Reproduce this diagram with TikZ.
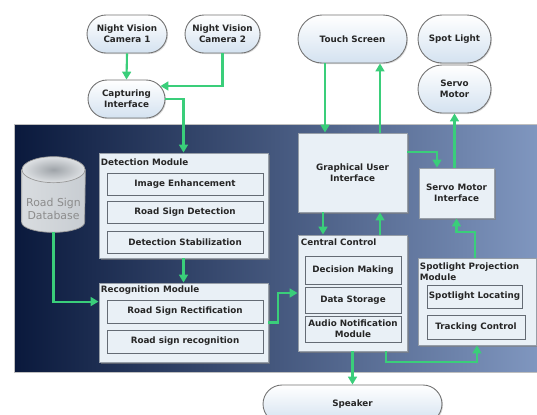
\documentclass[tikz,border=0pt]{standalone}
\usepackage{fontspec}
\setmainfont{DejaVu Sans}
\usetikzlibrary{shapes.misc,shadows,arrows.meta,calc}

\definecolor{flowgreen}{RGB}{58,206,122}
\definecolor{panelleft}{RGB}{10,25,60}
\definecolor{panelright}{RGB}{128,151,192}
\definecolor{boxfill}{RGB}{233,240,246}
\definecolor{boxline}{RGB}{150,158,168}
\definecolor{subline}{RGB}{100,107,116}
\definecolor{pillfill}{RGB}{212,226,240}
\definecolor{dbbody}{RGB}{200,205,210}
\definecolor{dbtop}{RGB}{158,163,168}

\tikzset{
	every node/.style={font=\fontsize{5}{6.3}\selectfont\bfseries, text=black!85, align=center, inner sep=0pt},
	pill/.style={rounded rectangle, draw=black!55, line width=0.5pt, top color=white, bottom color=pillfill,
		drop shadow={opacity=0.3, shadow xshift=0.6pt, shadow yshift=-0.6pt}},
	module/.style={rectangle, draw=boxline, fill=boxfill, line width=0.5pt,
		drop shadow={opacity=0.6, shadow xshift=1.2pt, shadow yshift=-1.2pt}},
	part/.style={rectangle, draw=subline, fill=boxfill, line width=0.5pt, minimum width=3.12cm,
		drop shadow={opacity=0.3, shadow xshift=0.5pt, shadow yshift=-0.5pt}},
	title/.style={anchor=west, align=left},
	flow/.style={draw=flowgreen, line width=1.2pt, ->},
}

\begin{document}
\begin{tikzpicture}[x=0.02cm, y=-0.02cm, >={Triangle[length=4.5pt,width=5pt]}]
	\clip (0,0) rectangle (537,414);
	\fill[white] (0,0) rectangle (537,414);
	% system panel
	\shade[left color=panelleft, right color=panelright, draw=black!25] (14,124) rectangle (540,372);

	% devices outside the panel
	\node[pill, minimum width=1.6cm, minimum height=0.76cm] (cam1) at (127,34) {Night Vision\\Camera 1};
	\node[pill, minimum width=1.5cm, minimum height=0.76cm] (cam2) at (222.5,34) {Night Vision\\Camera 2};
	\node[pill, minimum width=1.54cm, minimum height=0.76cm] (capt) at (126.5,99) {Capturing\\Interface};
	\node[pill, minimum width=2.18cm, minimum height=0.96cm] (touch) at (352.5,39) {Touch Screen};
	\node[pill, minimum width=1.46cm, minimum height=0.96cm] (spot) at (454.5,39) {Spot Light};
	\node[pill, minimum width=1.46cm, minimum height=0.96cm] (servo) at (454.5,89) {Servo\\Motor};
	\node[pill, minimum width=3.58cm, minimum height=0.76cm] (speaker) at (352.5,404) {Speaker};

	% database
	\node[minimum width=1.26cm, minimum height=1.5cm] (db) at (53.5,194.5) {};
	\shade[left color=dbbody!70!white, right color=dbbody, draw=black!40]
		($(db.north west)+(0,13)$) -- ($(db.south west)+(0,-10)$)
		arc[start angle=180, end angle=360, x radius=0.63cm, y radius=0.2cm]
		-- ($(db.north east)+(0,13)$) -- cycle;
	\shade[inner color=dbtop, outer color=dbbody!60!white, draw=black!40]
		($(db.north)+(0,13)$) ellipse [x radius=0.63cm, y radius=0.26cm];
	\node[font=\fontsize{6.2}{7.4}\selectfont, text=black!45] (dblabel) at ($(db.center)+(0,14)$) {Road Sign\\Database};

	% detection module
	\node[module, minimum width=3.38cm, minimum height=2.1cm] (det) at (183.5,205.5) {};
	\node[title] at ($(det.north west)+(2,10)$) {Detection Module};
	\node[part, minimum height=0.44cm] (enh) at (185,184) {Image Enhancement};
	\node[part, minimum height=0.44cm] (sdet) at (185,212) {Road Sign Detection};
	\node[part, minimum height=0.44cm] (stab) at (185,242) {Detection Stabilization};

	% recognition module
	\node[module, minimum width=3.38cm, minimum height=1.58cm] (rec) at (183.5,322.5) {};
	\node[title] at ($(rec.north west)+(2,8)$) {Recognition Module};
	\node[part, minimum height=0.46cm] (rect) at (185,311.5) {Road Sign Rectification};
	\node[part, minimum height=0.46cm] (recog) at (185,341.5) {Road sign recognition};

	% gui and central control
	\node[module, minimum width=2.18cm, minimum height=1.58cm] (gui) at (352.5,172.5) {Graphical User\\Interface};
	\node[module, minimum width=2.18cm, minimum height=2.32cm] (cc) at (352.5,293) {};
	\node[title] at ($(cc.north west)+(3,8)$) {Central Control};
	\node[part, minimum width=1.92cm, minimum height=0.56cm] (dec) at (353,270) {Decision Making};
	\node[part, minimum width=1.92cm, minimum height=0.52cm] (store) at (353,300) {Data Storage};
	\node[part, minimum width=1.92cm, minimum height=0.52cm] (audio) at (353,329) {Audio Notification\\Module};

	% servo and spotlight
	\node[module, minimum width=1.5cm, minimum height=1cm] (smi) at (456.5,193) {Servo Motor\\Interface};
	\node[module, minimum width=2.36cm, minimum height=1.74cm] (spm) at (477,301.5) {};
	\node[title] at ($(spm.north west)+(2,14.5)$) {Spotlight Projection\\Module};
	\node[part, minimum width=1.9cm, minimum height=0.46cm] (locate) at (474.5,296.5) {Spotlight Locating};
	\node[part, minimum width=1.96cm, minimum height=0.48cm] (track) at (476,327) {Tracking Control};

	% data flow
	\draw[flow] (cam1.south) -- (capt.north);
	\draw[flow] (cam2.south) |- (capt.21);
	\draw[flow] (capt.east) -| (det.north);
	\draw[flow] (det.south) -- (rec.north);
	\draw[flow] ($(db.south)+(0,-0.5)$) |- ($(rec.north west)+(0,19)$);
	\draw[flow] (rec.east) -- ++(10,0) |- (cc.west);
	\draw[flow] ([xshift=-0.55cm]touch.south) -- ([xshift=-0.55cm]gui.north);
	\draw[flow] ([xshift=0.55cm]gui.north) -- ([xshift=0.55cm]touch.south);
	\draw[flow] ([yshift=0.41cm]gui.east) -| ([xshift=-0.39cm]smi.north);
	\draw[flow] (smi.north -| servo.south) -- (servo.south);
	\draw[flow] ([xshift=-0.04cm]spm.north) -- ++(0,-26) -| (smi.south);
	\draw[flow] ([xshift=-0.59cm]gui.south) -- ([xshift=-0.59cm]cc.north);
	\draw[flow] ([xshift=0.55cm]cc.north) -- ([xshift=0.55cm]gui.south);
	\draw[flow] (cc.south) -- (speaker.north);
	\draw[flow] ([xshift=0.67cm]cc.south) -- ++(0,11) -| (spm.south);
\end{tikzpicture}
\end{document}
